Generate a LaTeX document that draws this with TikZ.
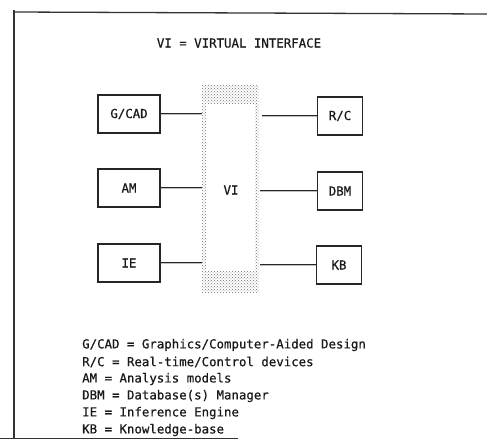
\documentclass[tikz,border=0pt]{standalone}
\usepackage{fontspec}
\newfontfamily\plotfont[FakeBold=0.6]{DejaVu Sans Mono}
\usetikzlibrary{patterns}
\begin{document}
\begin{tikzpicture}[x=1pt,y=-1pt,
  txt/.style={font=\plotfont\fontsize{12.4}{14}\selectfont, text=black!90, inner sep=0pt},
  lbox/.style={draw=black!85, line width=1.1pt, minimum width=62pt, minimum height=38pt, txt},
  rbox/.style={draw=black!85, line width=1.1pt, minimum width=45pt, minimum height=38pt, txt},
  link/.style={draw=black!85, double=black!25, double distance=0.7pt, line width=1pt},
  frameline/.style={draw=black!80, line width=1.3pt}]
\useasboundingbox (0,0) rectangle (487,441);
% frame
\coordinate (ftl) at (14,10);
\coordinate (fbl) at (14,439);
\coordinate (ftr) at (487,14);
\coordinate (fbo) at (0,438);
\coordinate (fbe) at (238,438);
\draw[frameline] (fbl) -- (ftl);
\draw[frameline] (14,12) -- (ftr);
\draw[frameline, line width=1pt] (fbo) -- (fbe);
% title
\node[txt] (title) at (239,43) {VI = VIRTUAL INTERFACE};
% virtual interface (stippled)
\fill[pattern=crosshatch dots, pattern color=black!55, even odd rule]
  (202,85) rectangle (259,293) (206,104) rectangle (255,271);
\node[minimum width=57pt, minimum height=208pt, inner sep=0pt] (vi) at (230.5,189) {};
\node[txt] (vilabel) at (231,190) {VI};
% boxes
\node[lbox] (gcad) at (129,114) {G/CAD};
\node[lbox] (am) at (129,188) {AM};
\node[lbox] (ie) at (129,263) {IE};
\node[rbox] (rc) at (340,116) {R/C};
\node[rbox] (dbm) at (340,191) {DBM};
\node[rbox] (kb) at (339,265) {KB};
% connectors
\draw[link] (gcad.east) -- (gcad.east -| vi.west);
\draw[link] (am.east) -- (am.east -| vi.west);
\draw[link] (ie.east) -- (ie.east -| vi.west);
\draw[link] (rc.west) -- ([xshift=3pt]rc.west -| vi.east);
\draw[link] (dbm.west) -- ([xshift=1pt]dbm.west -| vi.east);
\draw[link] (kb.west) -- ([xshift=1pt]kb.west -| vi.east);
% legend
\node[txt, anchor=west] (l1) at (82,345) {G/CAD = Graphics/Computer-Aided Design};
\node[txt, anchor=west] (l2) at (82,362) {R/C = Real-time/Control devices};
\node[txt, anchor=west] (l3) at (82,379) {AM = Analysis models};
\node[txt, anchor=west] (l4) at (82,396) {DBM = Database(s) Manager};
\node[txt, anchor=west] (l5) at (82,413) {IE = Inference Engine};
\node[txt, anchor=west] (l6) at (82,430) {KB = Knowledge-base};
\end{tikzpicture}
\end{document}
